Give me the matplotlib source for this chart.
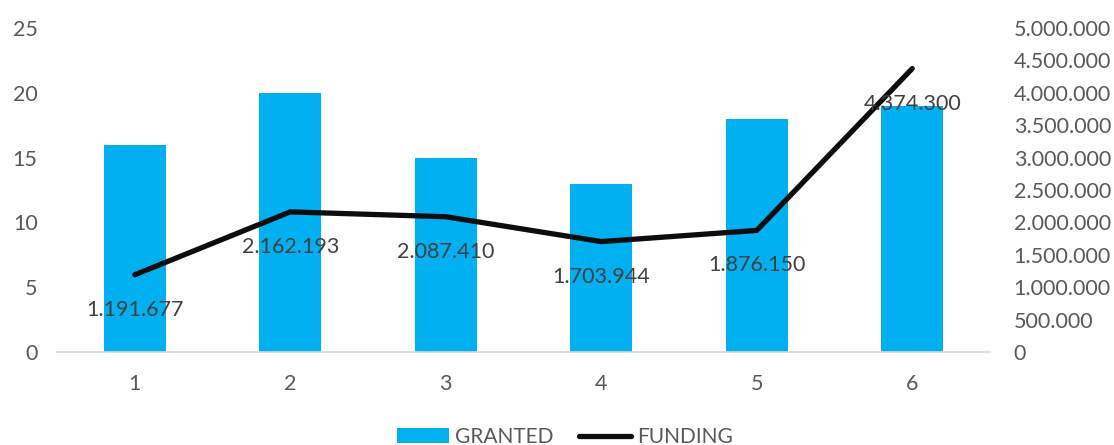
import matplotlib
matplotlib.use("Agg")
import matplotlib.pyplot as plt
from matplotlib.ticker import FuncFormatter, MultipleLocator
import numpy as np

categories = ["1", "2", "3", "4", "5", "6"]
granted = [16, 20, 15, 13, 18, 19]
funding = [1191677, 2162193, 2087410, 1703944, 1876150, 4374300]

BAR_COLOR = "#00B0F0"
LINE_COLOR = "#0D0D0D"
TEXT_COLOR = "#595959"

plt.rcParams["font.family"] = ["Lato", "DejaVu Sans"]
plt.rcParams["font.size"] = 15

W, H = 1114, 445
fig = plt.figure(figsize=(W / 100, H / 100), dpi=100)
ax = fig.add_axes([57 / W, 1 - 352 / H, (990 - 57) / W, (352 - 28) / H])
ax2 = ax.twinx()

x = np.arange(len(categories))


def thousands(v, _pos=None):
    return f"{int(round(v)):,}".replace(",", ".")


bars = ax.bar(x, granted, width=0.4, color=BAR_COLOR, label="GRANTED", zorder=2)
line, = ax2.plot(x, funding, color=LINE_COLOR, lw=3.8, solid_capstyle="round",
                 solid_joinstyle="miter", label="FUNDING", zorder=3)

ax.set_xlim(-0.5, len(categories) - 0.5)
ax.set_ylim(0, 25)
ax.yaxis.set_major_locator(MultipleLocator(5))
ax2.set_ylim(0, 5000000)
ax2.yaxis.set_major_locator(MultipleLocator(500000))
ax2.yaxis.set_major_formatter(FuncFormatter(thousands))

ax.set_xticks(x)
ax.set_xticklabels(categories)

for a in (ax, ax2):
    for s in a.spines.values():
        s.set_visible(False)
    a.tick_params(length=0, colors=TEXT_COLOR, labelsize=15.5)
ax.spines["bottom"].set_visible(True)
ax.spines["bottom"].set_color("#D9D9D9")
ax.spines["bottom"].set_linewidth(1.2)
ax.tick_params(axis="y", pad=14)
ax.tick_params(axis="x", pad=16)
ax2.tick_params(axis="y", pad=17)

ax.set_zorder(ax2.get_zorder() - 1)
ax2.patch.set_visible(False)

for xi, v in zip(x, funding):
    ax2.annotate(thousands(v), (xi, v), xytext=(0, -35), textcoords="offset pixels",
                 ha="center", va="center", color="#404040", fontsize=15.5, zorder=4)

fig.legend(handles=[bars, line], labels=["GRANTED", "FUNDING"], loc="center",
           bbox_to_anchor=(565 / W, 1 - 437 / H), ncol=2, frameon=False,
           handlelength=2.5, handleheight=0.75, handletextpad=0.3,
           columnspacing=1.2, labelcolor=TEXT_COLOR, fontsize=15)

fig.savefig("out.png", dpi=100)
